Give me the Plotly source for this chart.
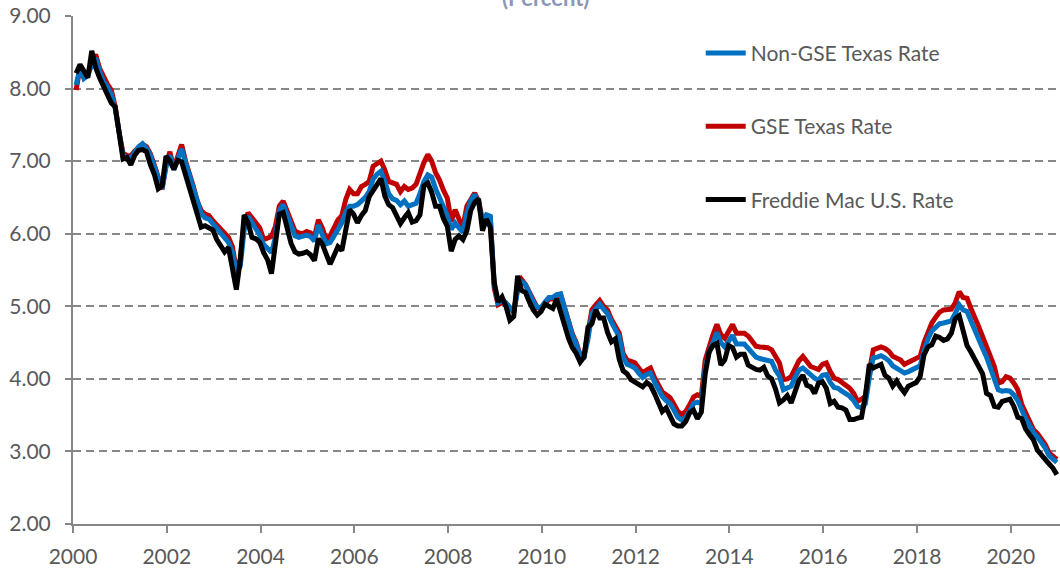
import plotly.graph_objects as go

# Monthly 30-year mortgage rates, Jan 2000 - Dec 2020 (percent)
freddie_us = [
    8.21, 8.33, 8.24, 8.15, 8.52, 8.29, 8.15, 8.03, 7.91, 7.80, 7.75, 7.38,
    7.03, 7.05, 6.95, 7.08, 7.15, 7.16, 7.13, 6.95, 6.82, 6.62, 6.66, 7.07,
    7.00, 6.89, 7.01, 6.99, 6.81, 6.65, 6.49, 6.29, 6.09, 6.11, 6.07, 6.05,
    5.92, 5.84, 5.75, 5.81, 5.48, 5.23, 5.63, 6.26, 6.15, 5.95, 5.93, 5.88,
    5.74, 5.64, 5.45, 5.83, 6.27, 6.29, 6.06, 5.87, 5.75, 5.72, 5.73, 5.75,
    5.71, 5.63, 5.93, 5.86, 5.72, 5.58, 5.70, 5.82, 5.77, 6.07, 6.33, 6.27,
    6.15, 6.25, 6.32, 6.51, 6.60, 6.68, 6.76, 6.52, 6.40, 6.36, 6.24, 6.14,
    6.22, 6.29, 6.16, 6.18, 6.26, 6.66, 6.70, 6.57, 6.38, 6.38, 6.21, 6.10,
    5.76, 5.92, 5.97, 5.92, 6.04, 6.32, 6.43, 6.48, 6.04, 6.20, 6.09, 5.33,
    5.06, 5.13, 5.00, 4.81, 4.86, 5.42, 5.22, 5.19, 5.06, 4.95, 4.88, 4.93,
    5.03, 4.99, 4.97, 5.10, 4.89, 4.74, 4.56, 4.43, 4.35, 4.23, 4.30, 4.71,
    4.76, 4.95, 4.84, 4.84, 4.64, 4.51, 4.55, 4.27, 4.11, 4.07, 3.99, 3.96,
    3.92, 3.89, 3.95, 3.91, 3.80, 3.68, 3.55, 3.60, 3.50, 3.38, 3.35, 3.35,
    3.41, 3.53, 3.57, 3.45, 3.54, 4.07, 4.37, 4.46, 4.49, 4.19, 4.26, 4.46,
    4.43, 4.30, 4.34, 4.34, 4.19, 4.16, 4.13, 4.12, 4.16, 4.04, 4.00, 3.86,
    3.67, 3.71, 3.77, 3.67, 3.84, 3.98, 4.05, 3.91, 3.89, 3.80, 3.94, 3.96,
    3.87, 3.66, 3.69, 3.61, 3.60, 3.57, 3.44, 3.44, 3.46, 3.47, 3.77, 4.20,
    4.15, 4.17, 4.20, 4.05, 4.01, 3.90, 3.97, 3.88, 3.81, 3.90, 3.92, 3.95,
    4.03, 4.33, 4.44, 4.47, 4.59, 4.57, 4.53, 4.55, 4.63, 4.83, 4.87, 4.64,
    4.46, 4.37, 4.27, 4.14, 4.07, 3.80, 3.77, 3.62, 3.61, 3.69, 3.70, 3.72,
    3.62, 3.47, 3.45, 3.31, 3.23, 3.16, 3.02, 2.94, 2.89, 2.83, 2.77, 2.68,
]

gse_texas = [
    7.98, 8.30, 8.15, 8.20, 8.35, 8.47, 8.28, 8.15, 8.06, 7.98, 7.75, 7.40,
    7.11, 7.08, 7.07, 7.14, 7.18, 7.23, 7.20, 7.10, 6.95, 6.78, 6.61, 6.95,
    7.13, 6.90, 7.05, 7.23, 7.00, 6.84, 6.65, 6.45, 6.32, 6.27, 6.25, 6.18,
    6.12, 6.06, 6.01, 5.95, 5.82, 5.50, 5.65, 6.12, 6.29, 6.22, 6.17, 6.08,
    5.92, 5.94, 5.96, 6.10, 6.38, 6.45, 6.32, 6.15, 6.04, 6.01, 6.00, 6.03,
    6.01, 5.96, 6.19, 6.08, 5.92, 5.97, 6.08, 6.19, 6.25, 6.47, 6.61, 6.55,
    6.55, 6.65, 6.68, 6.72, 6.93, 6.97, 7.00, 6.88, 6.72, 6.70, 6.68, 6.58,
    6.65, 6.61, 6.63, 6.68, 6.84, 6.98, 7.09, 7.00, 6.84, 6.74, 6.60, 6.49,
    6.17, 6.33, 6.20, 6.10, 6.38, 6.48, 6.56, 6.45, 6.19, 6.24, 6.22, 5.25,
    5.02, 5.05, 5.03, 4.98, 4.92, 5.25, 5.37, 5.30, 5.18, 5.06, 4.98, 4.97,
    5.05, 5.10, 5.10, 5.14, 5.16, 4.98, 4.80, 4.62, 4.50, 4.33, 4.33, 4.60,
    4.95, 5.02, 5.08, 5.00, 4.95, 4.82, 4.72, 4.63, 4.35, 4.26, 4.24, 4.22,
    4.15, 4.08, 4.12, 4.15, 4.02, 3.90, 3.82, 3.78, 3.74, 3.65, 3.55, 3.51,
    3.55, 3.64, 3.75, 3.78, 3.76, 4.26, 4.45, 4.61, 4.75, 4.61, 4.56, 4.65,
    4.75, 4.63, 4.63, 4.63, 4.59, 4.52, 4.45, 4.44, 4.43, 4.43, 4.40, 4.30,
    4.22, 3.99, 4.00, 4.03, 4.15, 4.25, 4.31, 4.25, 4.17, 4.15, 4.13, 4.20,
    4.22, 4.10, 4.01, 3.99, 3.95, 3.90, 3.87, 3.80, 3.69, 3.72, 3.76, 4.10,
    4.40, 4.42, 4.44, 4.42, 4.38, 4.31, 4.28, 4.26, 4.20, 4.23, 4.26, 4.28,
    4.31, 4.50, 4.65, 4.77, 4.85, 4.92, 4.95, 4.95, 4.96, 5.05, 5.20, 5.12,
    5.11, 4.97, 4.82, 4.72, 4.58, 4.45, 4.30, 4.17, 3.94, 3.96, 4.03, 4.01,
    3.94, 3.85, 3.65, 3.53, 3.42, 3.30, 3.25, 3.18, 3.10, 2.98, 2.93, 2.89,
]

non_gse_texas = [
    8.05, 8.28, 8.14, 8.18, 8.33, 8.42, 8.24, 8.10, 8.02, 7.92, 7.72, 7.38,
    7.08, 7.05, 7.04, 7.12, 7.20, 7.24, 7.18, 7.08, 6.92, 6.75, 6.62, 6.92,
    7.08, 6.88, 7.02, 7.17, 6.98, 6.80, 6.62, 6.42, 6.28, 6.22, 6.20, 6.14,
    6.08, 6.00, 5.95, 5.88, 5.75, 5.45, 5.55, 6.05, 6.24, 6.15, 6.06, 5.98,
    5.85, 5.80, 5.74, 5.95, 6.32, 6.40, 6.26, 6.08, 5.97, 5.95, 5.96, 5.98,
    5.96, 5.90, 6.12, 6.00, 5.86, 5.88, 5.98, 6.08, 6.15, 6.30, 6.38, 6.38,
    6.40, 6.45, 6.50, 6.58, 6.75, 6.82, 6.86, 6.72, 6.55, 6.48, 6.46, 6.40,
    6.45, 6.38, 6.40, 6.42, 6.55, 6.72, 6.81, 6.78, 6.62, 6.50, 6.38, 6.25,
    6.06, 6.15, 6.08, 6.02, 6.28, 6.45, 6.54, 6.42, 6.18, 6.26, 6.24, 5.30,
    5.05, 5.08, 5.05, 4.98, 4.92, 5.22, 5.34, 5.30, 5.18, 5.06, 4.99, 4.98,
    5.06, 5.12, 5.12, 5.16, 5.17, 4.98, 4.78, 4.60, 4.48, 4.30, 4.30, 4.55,
    4.90, 4.98, 5.03, 4.96, 4.90, 4.78, 4.68, 4.58, 4.30, 4.20, 4.18, 4.15,
    4.08, 4.02, 4.06, 4.08, 3.96, 3.84, 3.76, 3.70, 3.66, 3.57, 3.47, 3.43,
    3.47, 3.55, 3.66, 3.68, 3.66, 4.15, 4.37, 4.50, 4.64, 4.50, 4.44, 4.52,
    4.60, 4.48, 4.48, 4.48, 4.42, 4.36, 4.30, 4.28, 4.27, 4.26, 4.24, 4.12,
    4.04, 3.85, 3.87, 3.90, 4.02, 4.12, 4.15, 4.10, 4.04, 4.01, 3.98, 4.05,
    4.06, 3.95, 3.88, 3.87, 3.83, 3.80, 3.76, 3.70, 3.62, 3.60, 3.66, 4.02,
    4.29, 4.30, 4.32, 4.29, 4.25, 4.18, 4.15, 4.12, 4.08, 4.10, 4.13, 4.15,
    4.18, 4.38, 4.55, 4.66, 4.72, 4.76, 4.77, 4.78, 4.80, 4.90, 5.02, 4.95,
    4.93, 4.80, 4.66, 4.55, 4.42, 4.30, 4.15, 4.00, 3.85, 3.83, 3.84, 3.83,
    3.78, 3.70, 3.55, 3.45, 3.36, 3.26, 3.20, 3.13, 3.05, 2.94, 2.89, 2.85,
]

start_year = 2000
x_tick_years = [2000, 2002, 2004, 2006, 2008, 2010, 2012, 2014, 2016, 2018, 2020]
y_tick_values = [2, 3, 4, 5, 6, 7, 8, 9]

# month positions on a fractional-year axis
x_pos = [start_year + (i + 0.8) / 12 for i in range(len(freddie_us))]

FONT_FAMILY = "Lato, 'Noto Sans', sans-serif"
TICK_FONT = dict(family=FONT_FAMILY, size=21, color="#595959")
AXIS_COLOR = "#878787"

fig = go.Figure()
fig.add_trace(go.Scatter(
    x=x_pos, y=gse_texas, mode="lines", name="GSE Texas Rate",
    line=dict(color="#C00000", width=5), legendgroup="g2", legendrank=2))
fig.add_trace(go.Scatter(
    x=x_pos, y=non_gse_texas, mode="lines", name="Non-GSE Texas Rate",
    line=dict(color="#0070C0", width=5), legendgroup="g1", legendrank=1))
fig.add_trace(go.Scatter(
    x=x_pos, y=freddie_us, mode="lines", name="Freddie Mac U.S. Rate",
    line=dict(color="#000000", width=5), legendgroup="g3", legendrank=3))

fig.update_layout(
    width=1060, height=569,
    margin=dict(l=73, r=0, t=16, b=45),
    paper_bgcolor="white", plot_bgcolor="white",
    showlegend=True,
    legend=dict(
        x=0.636, y=0.967, xanchor="left", yanchor="top",
        font=dict(family=FONT_FAMILY, size=21, color="#595959"),
        bgcolor="rgba(0,0,0,0)", tracegroupgap=43, itemwidth=40,
    ),
    annotations=[dict(
        text="<b>(Percent)</b>", xref="paper", yref="paper",
        x=0.479, y=1.006, xanchor="center", yanchor="bottom", showarrow=False,
        font=dict(family=FONT_FAMILY, size=22, color="#8C96B8"),
    )],
)

fig.update_xaxes(
    range=[2000, 2021.05], tickmode="array", tickvals=x_tick_years,
    ticktext=[str(y) for y in x_tick_years],
    showgrid=False, zeroline=False, showline=True, linecolor=AXIS_COLOR, linewidth=2,
    ticks="outside", ticklen=7, tickwidth=2, tickcolor=AXIS_COLOR,
    tickfont=TICK_FONT, ticklabelstandoff=6,
)
fig.update_yaxes(
    range=[2, 9], tickmode="array", tickvals=y_tick_values,
    ticktext=[f"{v:.2f}" for v in y_tick_values],
    showgrid=True, gridcolor=AXIS_COLOR, gridwidth=2, griddash="8px,5px",
    zeroline=False, showline=True, linecolor=AXIS_COLOR, linewidth=2,
    ticks="outside", ticklen=6, tickwidth=2, tickcolor=AXIS_COLOR,
    tickfont=TICK_FONT, ticklabelstandoff=10,
)

fig.write_html(
    "out.html",
    config={"displayModeBar": False},
    post_script="document.body.style.margin='0';document.body.style.overflow='hidden';",
)
